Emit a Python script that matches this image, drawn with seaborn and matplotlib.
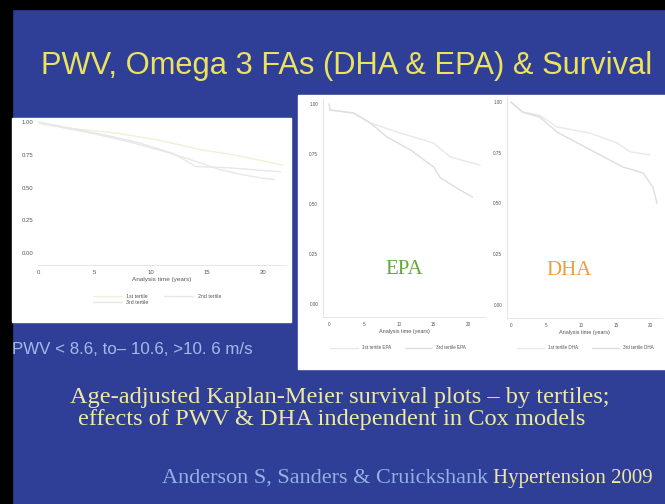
import numpy as np
import pandas as pd
import matplotlib
matplotlib.use('Agg')
import matplotlib.pyplot as plt
from matplotlib.patches import Rectangle
import seaborn as sns

# PWV tertiles (left panel)
pwv_t1 = [0, 0.4, 3, 7, 10.8, 14.3, 17.3, 19.6, 21.7]
pwv_s1 = [1.0, 0.98, 0.95, 0.915, 0.86, 0.79, 0.75, 0.71, 0.67]
pwv_t2 = [0, 3, 6, 9, 12, 14, 17, 20, 21.5]
pwv_s2 = [1.0, 0.95, 0.90, 0.84, 0.76, 0.66, 0.65, 0.63, 0.62]
pwv_t3 = [0, 2, 5, 8, 11, 14, 16, 18, 20, 21]
pwv_s3 = [1.0, 0.96, 0.91, 0.85, 0.78, 0.70, 0.64, 0.60, 0.57, 0.56]
pwv_labels = ['1st tertile', '2nd tertile', '3rd tertile']

# EPA tertiles
epa_t1 = [0, 0.1, 3.5, 5.9, 10.2, 15, 17.4, 21.7]
epa_s1 = [1.0, 0.97, 0.955, 0.905, 0.855, 0.805, 0.735, 0.695]
epa_t3 = [0, 0.1, 3.5, 5.9, 8.3, 11.7, 15, 16, 18.8, 20.6]
epa_s3 = [1.0, 0.97, 0.955, 0.905, 0.835, 0.77, 0.685, 0.63, 0.57, 0.535]
epa_labels = ['1st tertile EPA', '3rd tertile EPA']

# DHA tertiles
dha_t1 = [0, 1.7, 4.1, 6.6, 11.3, 15.1, 17, 19.9]
dha_s1 = [1.0, 0.95, 0.935, 0.877, 0.847, 0.80, 0.755, 0.74]
dha_t3 = [0, 1.7, 4.1, 6.6, 9.4, 12.7, 16, 18.9, 20.3, 20.9]
dha_s3 = [1.0, 0.95, 0.926, 0.852, 0.80, 0.74, 0.68, 0.65, 0.58, 0.50]
dha_labels = ['1st tertile DHA', '3rd tertile DHA']

xticks = [0, 5, 10, 15, 20]
yticks = [0, 0.25, 0.5, 0.75, 1.0]
yticklabels = ['0.00', '0.25', '0.50', '0.75', '1.00']

sns.set_theme(style='white')
plt.rcParams['font.family'] = ['Liberation Sans', 'DejaVu Sans']

W, H = 665, 504
BLUE = '#2f3f97'


def fx(px):
    return px / W


def fy(py):
    return 1 - py / H


def box(x0, y0, x1, y1):
    # figure rect from pixel corners (top-left origin)
    return [fx(x0), fy(y1), fx(x1) - fx(x0), fy(y0) - fy(y1)]


def make_df(ts, ss, labels):
    parts = []
    for t, s, lab in zip(ts, ss, labels):
        parts.append(pd.DataFrame({'t': t, 'S': s, 'group': lab}))
    return pd.concat(parts, ignore_index=True)


fig = plt.figure(figsize=(6.65, 5.04), dpi=100, facecolor=BLUE)

# black slide border, white graph panels
for r in [(0, 0, 665, 9), (0, 0, 12, 504)]:
    fig.add_artist(Rectangle((fx(r[0]), fy(r[3])), fx(r[2] - r[0]), (r[3] - r[1]) / H,
                             transform=fig.transFigure, color='black', zorder=0))
for r in [(12, 118, 291, 322), (298, 95, 665, 369)]:
    fig.add_artist(Rectangle((fx(r[0]), fy(r[3])), fx(r[2] - r[0]), (r[3] - r[1]) / H,
                             transform=fig.transFigure, color='white', zorder=0))


def style_ax(ax, xlim, ylim, tick_fs, label_fs):
    ax.set_facecolor('none')
    ax.set_xlim(*xlim)
    ax.set_ylim(*ylim)
    ax.set_xticks(xticks)
    ax.set_xticklabels([str(v) for v in xticks])
    ax.set_yticks(yticks)
    ax.set_yticklabels(yticklabels)
    ax.tick_params(labelsize=tick_fs, colors='#cccccc', labelcolor='#555555',
                   length=1.5, width=0.4, pad=2)
    for sp in ['top', 'right']:
        ax.spines[sp].set_visible(False)
    for sp in ['left', 'bottom']:
        ax.spines[sp].set_color('#e2e2e2')
        ax.spines[sp].set_linewidth(0.6)
    ax.set_xlabel('Analysis time (years)', fontsize=label_fs, color='#555555', labelpad=1.5)
    ax.set_ylabel('')


# left panel: PWV
ax1 = fig.add_axes(box(38, 118, 286, 265))
df1 = make_df([pwv_t1, pwv_t2, pwv_t3], [pwv_s1, pwv_s2, pwv_s3], pwv_labels)
sns.lineplot(data=df1, x='t', y='S', hue='group', palette=['#f3eed6', '#e4e7ee', '#e8e8e8'],
             linewidth=1.0, ax=ax1)
style_ax(ax1, (0, 22), (-0.09, 1.03), 4.3, 4.6)
ax1.spines['left'].set_visible(False)
h, l = ax1.get_legend_handles_labels()
order = [0, 2, 1]
ax1.legend([h[i] for i in order], [l[i] for i in order], loc='upper center',
           bbox_to_anchor=(fx(157), fy(289)), bbox_transform=fig.transFigure,
           ncol=2, frameon=False, fontsize=3.8, handlelength=5.5, columnspacing=3,
           labelspacing=0.3, labelcolor='#555555')

# EPA panel
ax2 = fig.add_axes(box(323, 98, 485, 317))
df2 = make_df([epa_t1, epa_t3], [epa_s1, epa_s3], epa_labels)
sns.lineplot(data=df2, x='t', y='S', hue='group', palette=['#e8e8e8', '#dedede'],
             linewidth=1.0, ax=ax2)
style_ax(ax2, (-0.9, 22.4), (-0.065, 1.03), 3.3, 4.0)
ax2.legend(loc='upper center', bbox_to_anchor=(fx(398), fy(341)), bbox_transform=fig.transFigure,
           ncol=2, frameon=False, fontsize=3.3, handlelength=6, columnspacing=3,
           labelcolor='#555555')
ax2.text(0.5, 0.215, 'EPA', transform=ax2.transAxes, ha='center', va='center',
         fontsize=15, color='#64a83c', family='Liberation Serif')

# DHA panel
ax3 = fig.add_axes(box(507, 96, 662, 318))
df3 = make_df([dha_t1, dha_t3], [dha_s1, dha_s3], dha_labels)
sns.lineplot(data=df3, x='t', y='S', hue='group', palette=['#e8e8e8', '#dedede'],
             linewidth=1.0, ax=ax3)
style_ax(ax3, (-0.57, 21.6), (-0.065, 1.03), 3.3, 4.0)
ax3.legend(loc='upper center', bbox_to_anchor=(fx(585), fy(341)), bbox_transform=fig.transFigure,
           ncol=2, frameon=False, fontsize=3.3, handlelength=6, columnspacing=3,
           labelcolor='#555555')
ax3.text(0.4, 0.215, 'DHA', transform=ax3.transAxes, ha='center', va='center',
         fontsize=15, color='#e8a23e', family='Liberation Serif')

# slide text
fig.text(fx(347), fy(66), 'PWV, Omega 3 FAs (DHA & EPA) & Survival', ha='center', va='center',
         fontsize=22.2, color='#ebe35e')
fig.text(fx(12), fy(350), 'PWV < 8.6, to\u2013 10.6, >10. 6 m/s', ha='left', va='center',
         fontsize=12.2, color='#a3bbe9')
fig.text(fx(340), fy(398), 'Age-adjusted Kaplan-Meier survival plots \u2013 by tertiles;',
         ha='center', va='center', fontsize=17.6, color='#efe8a4', family='Liberation Serif')
fig.text(fx(332), fy(420), 'effects of PWV & DHA independent in Cox models',
         ha='center', va='center', fontsize=17.6, color='#efe8a4', family='Liberation Serif')
fig.text(fx(488), fy(478), 'Anderson S, Sanders & Cruickshank', ha='right', va='center',
         fontsize=16, color='#93b0e2', family='Liberation Serif')
fig.text(fx(493), fy(478), 'Hypertension 2009', ha='left', va='center',
         fontsize=15, color='#eee6a2', family='Liberation Serif')

fig.savefig('out.png', dpi=100, facecolor=BLUE)
